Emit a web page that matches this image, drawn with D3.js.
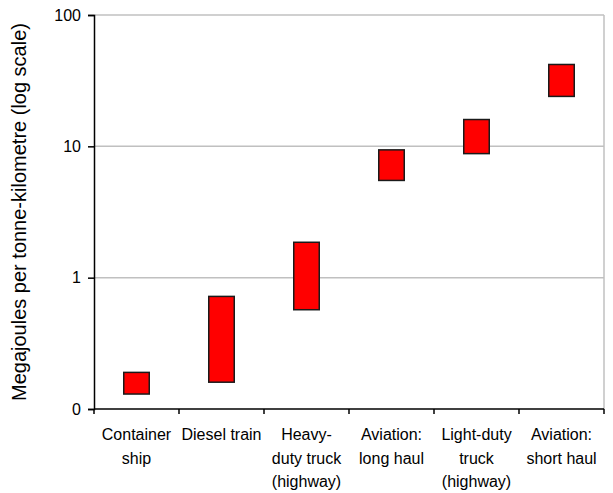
<!DOCTYPE html>
<html>
<head>
<meta charset="utf-8">
<script src="https://cdn.jsdelivr.net/npm/d3@7"></script>
<style>
  html, body { margin: 0; padding: 0; background: #ffffff; }
  svg { display: block; }
  text { font-family: "Liberation Sans", Arial, sans-serif; fill: #000; }
</style>
</head>
<body>
<svg id="chart" width="613" height="493"></svg>
<script>
// ---- data ----
const categories = ["Container ship", "Diesel train", "Heavy-duty truck (highway)",
  "Aviation: long haul", "Light-duty truck (highway)", "Aviation: short haul"];
const categoryLines = [
  ["Container", "ship"],
  ["Diesel train"],
  ["Heavy-", "duty truck", "(highway)"],
  ["Aviation:", "long haul"],
  ["Light-duty", "truck", "(highway)"],
  ["Aviation:", "short haul"]
];
const lowValues  = [0.13, 0.16, 0.57, 5.5, 8.8, 24];
const highValues = [0.19, 0.72, 1.86, 9.4, 16, 42];
const yTickValues = [0.1, 1, 10, 100];
const yTickLabels = ["0", "1", "10", "100"];
const yTitle = "Megajoules per tonne-kilometre (log scale)";

// ---- layout ----
const svg = d3.select("#chart");
const mLeft = 94, mRight = 604, mTop = 15, mBottom = 409;

const x = d3.scaleBand().domain(categories).range([mLeft, mRight]).padding(0);
const y = d3.scaleLog().domain([0.1, 100]).range([mBottom, mTop]);

// gridlines
svg.append("g").selectAll("line")
  .data(yTickValues.filter(v => v > 0.1))
  .join("line")
  .attr("x1", mLeft).attr("x2", mRight)
  .attr("y1", d => y(d)).attr("y2", d => y(d))
  .attr("stroke", "#c0c0c0").attr("stroke-width", 1.5);

// right border
svg.append("line")
  .attr("x1", mRight).attr("x2", mRight).attr("y1", mTop).attr("y2", mBottom)
  .attr("stroke", "#c0c0c0").attr("stroke-width", 1.5);

// bars
const barW = x.bandwidth() * 0.3;
svg.append("g").selectAll("rect")
  .data(categories)
  .join("rect")
  .attr("x", d => x(d) + (x.bandwidth() - barW) / 2)
  .attr("width", barW)
  .attr("y", (d, i) => y(highValues[i]))
  .attr("height", (d, i) => y(lowValues[i]) - y(highValues[i]))
  .attr("fill", "#ff0000")
  .attr("stroke", "#1a1a1a").attr("stroke-width", 1.5);

// y axis
const yAxis = d3.axisLeft(y)
  .tickValues(yTickValues)
  .tickFormat((d, i) => yTickLabels[i])
  .tickSizeOuter(0).tickSize(6).tickPadding(7);
const gy = svg.append("g").attr("transform", `translate(${mLeft},0)`).call(yAxis);
gy.select(".domain").attr("stroke", "#000").attr("stroke-width", 1.5);
gy.selectAll(".tick line").attr("stroke", "#000").attr("stroke-width", 1.5);
gy.selectAll(".tick text")
  .style("font-family", '"Liberation Sans", Arial, sans-serif')
  .style("font-size", "16px").attr("fill", "#000");

// x axis (ticks at band boundaries)
const boundaries = categories.map(c => x(c)).concat([mRight]);
svg.append("line")
  .attr("x1", mLeft).attr("x2", mRight).attr("y1", mBottom).attr("y2", mBottom)
  .attr("stroke", "#000").attr("stroke-width", 1.5);
svg.append("g").selectAll("line")
  .data(boundaries)
  .join("line")
  .attr("x1", d => d).attr("x2", d => d)
  .attr("y1", mBottom).attr("y2", mBottom + 5)
  .attr("stroke", "#000").attr("stroke-width", 1.5);

// category labels
const lab = svg.append("g").selectAll("text")
  .data(categories)
  .join("text")
  .attr("text-anchor", "middle")
  .style("font-size", "16px")
  .attr("transform", d => `translate(${x(d) + x.bandwidth() / 2},440)`);
lab.selectAll("tspan")
  .data((d, i) => categoryLines[i])
  .join("tspan")
  .attr("x", 0)
  .attr("y", (d, j) => j * 23.5)
  .text(d => d);

// y title
svg.append("text")
  .attr("transform", `translate(26,${(mTop + mBottom) / 2}) rotate(-90)`)
  .attr("text-anchor", "middle")
  .style("font-size", "20px")
  .text(yTitle);
</script>
</body>
</html>
